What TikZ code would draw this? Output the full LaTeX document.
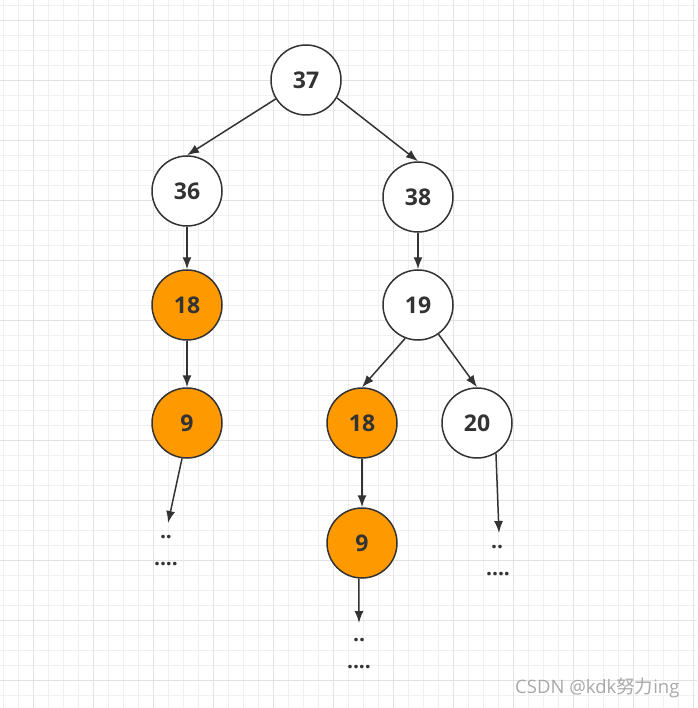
\documentclass[tikz,border=0pt]{standalone}
\usepackage{fontspec}
\usepackage{xcolor}
\usepackage{tikz}
\usetikzlibrary{arrows.meta}
\setmainfont{Open Sans}
\newfontfamily\cjkfont{Noto Sans CJK SC}
\definecolor{ink}{HTML}{333333}
\definecolor{hot}{HTML}{FF9900}
\definecolor{gridmin}{HTML}{F0F0F0}
\definecolor{gridmaj}{HTML}{E2E2E2}
\definecolor{mark}{HTML}{A8A8A8}

\begin{document}
\begin{tikzpicture}[x=1pt, y=-1pt, >={Latex[length=12pt,width=9pt]},
  every node/.style={text=ink, font=\fontsize{23}{24}\selectfont\bfseries},
  key/.style={draw=ink, circle, line width=1.5pt, fill=white, minimum size=70pt, inner sep=0pt},
  hotkey/.style={key, fill=hot},
  dots/.style={inner sep=0pt, font=\fontsize{21}{22}\selectfont\bfseries},
  link/.style={->, draw=ink, line width=1.5pt}]
\useasboundingbox (0,0) rectangle (697,708);
% background grid
\foreach \x in {3,18,...,697} \draw[gridmin, line width=0.8pt] (\x,0) -- (\x,708);
\foreach \y in {5,20,...,708} \draw[gridmin, line width=0.8pt] (0,\y) -- (697,\y);
\foreach \x in {33,93,...,697} \draw[gridmaj, line width=0.8pt] (\x,0) -- (\x,708);
\foreach \y in {20,80,...,708} \draw[gridmaj, line width=0.8pt] (0,\y) -- (697,\y);

\node[key] (n37) at (306,80) {37};
\node[key] (n36) at (187,191) {36};
\node[key] (n38) at (418,197) {38};
\node[hotkey] (n18a) at (187,305) {18};
\node[key] (n19) at (418,305) {19};
\node[hotkey] (n9a) at (187,423) {9};
\node[hotkey] (n18b) at (362,423) {18};
\node[key] (n20) at (477,423) {20};
\node[hotkey] (n9b) at (362,543) {9};

\coordinate (e9a) at (168,523);
\coordinate (e9b) at (359,623);
\coordinate (e20) at (499,533);
\node[dots] (d9a) at (166,537) {..};
\node[dots] (f9a) at (166,564) {....};
\node[dots] (d9b) at (359,640) {..};
\node[dots] (f9b) at (359,667) {....};
\node[dots] (d20) at (497,547) {..};
\node[dots] (f20) at (498,574) {....};

\draw[link] (n37.-148) -- (n36.north);
\draw[link] (n37.-30) -- (n38.north);
\draw[link] (n36) -- (n18a);
\draw[link] (n18a) -- (n9a);
\draw[link] (n38) -- (n19);
\draw[link] (n19.-111) -- (n18b.north);
\draw[link] (n19.-55) -- (n20.north);
\draw[link] (n18b) -- (n9b);
\draw[link] (n9a.-98) -- (e9a);
\draw[link] (n9b.-95) -- (e9b);
\draw[link] (n20.-58) -- (e20);

\node[text=mark, font=\fontsize{18.5}{20}\selectfont, anchor=east] (wm) at (683,688) {CSDN @kdk{\cjkfont 努力}ing};
\end{tikzpicture}
\end{document}
